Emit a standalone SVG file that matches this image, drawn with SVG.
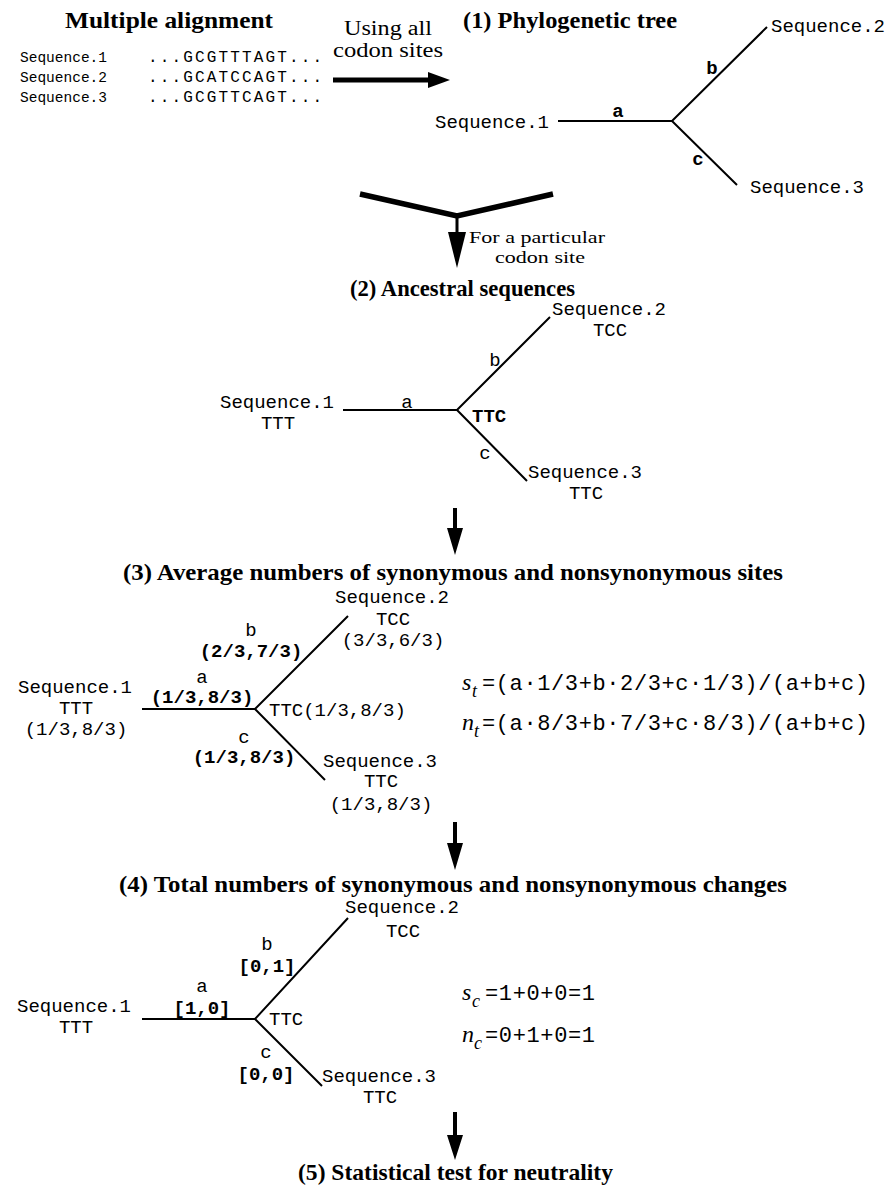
<svg xmlns="http://www.w3.org/2000/svg" width="889" height="1192" viewBox="0 0 889 1192">
<style>
.h{font-family:"Liberation Serif",serif;font-weight:bold;font-size:23px;fill:#000}
.s{font-family:"Liberation Serif",serif;font-size:20px;fill:#000}
.s2{font-family:"Liberation Serif",serif;font-size:17px;fill:#000}
.m{font-family:"Liberation Mono",monospace;font-size:19px;fill:#000}
.ms{font-family:"Liberation Mono",monospace;font-size:14.5px;fill:#000}
.mb{font-family:"Liberation Mono",monospace;font-size:19px;font-weight:bold;fill:#000}
.f{font-family:"Liberation Mono",monospace;font-size:22px;fill:#000}
.fi{font-family:"Liberation Serif",serif;font-style:italic;font-size:24px;fill:#000}
.fs{font-family:"Liberation Serif",serif;font-style:italic;font-size:18px;fill:#000}
.c{text-anchor:middle}
.br{stroke:#000;stroke-width:2;fill:none}
.ar{fill:#000;stroke:none}
</style>
<g id="alignment">
<text class="h" x="65" y="28" textLength="208" lengthAdjust="spacingAndGlyphs">Multiple alignment</text>
<text class="ms" x="20" y="62">Sequence.1</text>
<text class="ms" x="20" y="82">Sequence.2</text>
<text class="ms" x="20" y="102">Sequence.3</text>
<text class="ms" x="148" y="62" style="font-size:16px" textLength="174" lengthAdjust="spacing">...GCGTTTAGT...</text>
<text class="ms" x="148" y="82" style="font-size:16px" textLength="174" lengthAdjust="spacing">...GCATCCAGT...</text>
<text class="ms" x="148" y="102" style="font-size:16px" textLength="174" lengthAdjust="spacing">...GCGTTCAGT...</text>
</g>
<g id="step1">
<text class="h" x="463" y="28" textLength="214" lengthAdjust="spacingAndGlyphs">(1) Phylogenetic tree</text>
<text class="m" x="435" y="128">Sequence.1</text>
<text class="m" x="771" y="32">Sequence.2</text>
<text class="m" x="750" y="193">Sequence.3</text>
<text class="mb c" x="618" y="117">a</text>
<text class="mb c" x="712" y="74">b</text>
<text class="mb c" x="698" y="165">c</text>
<path class="br" d="M558 121H672L767 27M672 121L737 185"/>
</g>
<g id="step2">
<text class="h" x="350" y="296" textLength="225" lengthAdjust="spacingAndGlyphs">(2) Ancestral sequences</text>
<text class="m" x="220" y="408">Sequence.1</text>
<text class="m c" x="278" y="429">TTT</text>
<text class="m" x="552" y="315">Sequence.2</text>
<text class="m c" x="610" y="336">TCC</text>
<text class="m" x="528" y="478">Sequence.3</text>
<text class="m c" x="586" y="499">TTC</text>
<text class="m c" x="407" y="408">a</text>
<text class="m c" x="495" y="366">b</text>
<text class="m c" x="485" y="459">c</text>
<text class="mb" x="472" y="422">TTC</text>
<path class="br" d="M343 410H457L550 317M457 410L527 481"/>
</g>
<g id="step3">
<text class="h" x="123" y="580" textLength="660" lengthAdjust="spacingAndGlyphs">(3) Average numbers of synonymous and nonsynonymous sites</text>
<text class="m" x="18" y="693">Sequence.1</text>
<text class="m c" x="76" y="714">TTT</text>
<text class="m c" x="76" y="735">(1/3,8/3)</text>
<text class="m c" x="202" y="683">a</text>
<text class="mb c" x="202" y="703">(1/3,8/3)</text>
<text class="m c" x="251" y="636">b</text>
<text class="mb c" x="251" y="657">(2/3,7/3)</text>
<text class="m c" x="244" y="743">c</text>
<text class="mb c" x="244" y="763">(1/3,8/3)</text>
<text class="m" x="269" y="716">TTC(1/3,8/3)</text>
<text class="m" x="335" y="603">Sequence.2</text>
<text class="m c" x="393" y="625">TCC</text>
<text class="m c" x="393" y="646">(3/3,6/3)</text>
<text class="m" x="323" y="767">Sequence.3</text>
<text class="m c" x="381" y="787">TTC</text>
<text class="m c" x="381" y="810">(1/3,8/3)</text>
<path class="br" d="M142 709H255L348 616M255 709L325 780"/>
<text class="fi" x="462" y="690">s</text><text class="fs" x="472" y="697">t</text>
<text class="f" x="482" y="690" textLength="386" lengthAdjust="spacing">=(a·1/3+b·2/3+c·1/3)/(a+b+c)</text>
<text class="fi" x="462" y="730">n</text><text class="fs" x="474" y="737">t</text>
<text class="f" x="482" y="730" textLength="386" lengthAdjust="spacing">=(a·8/3+b·7/3+c·8/3)/(a+b+c)</text>
</g>
<g id="step4">
<text class="h" x="119" y="892" textLength="668" lengthAdjust="spacingAndGlyphs">(4) Total numbers of synonymous and nonsynonymous changes</text>
<text class="m" x="17" y="1012">Sequence.1</text>
<text class="m c" x="76" y="1033">TTT</text>
<text class="m c" x="202" y="992">a</text>
<text class="mb c" x="202" y="1014">[1,0]</text>
<text class="m c" x="267" y="950">b</text>
<text class="mb c" x="267" y="972">[0,1]</text>
<text class="m c" x="266" y="1058">c</text>
<text class="mb c" x="266" y="1080">[0,0]</text>
<text class="m" x="269" y="1025">TTC</text>
<text class="m" x="345" y="913">Sequence.2</text>
<text class="m c" x="403" y="937">TCC</text>
<text class="m" x="322" y="1082">Sequence.3</text>
<text class="m c" x="380" y="1103">TTC</text>
<path class="br" d="M142 1019H255L348 918M255 1019L322 1086"/>
<text class="fi" x="462" y="1000">s</text><text class="fs" x="472" y="1007">c</text>
<text class="f" x="485" y="1000" textLength="110" lengthAdjust="spacing">=1+0+0=1</text>
<text class="fi" x="462" y="1042">n</text><text class="fs" x="474" y="1049">c</text>
<text class="f" x="485" y="1042" textLength="110" lengthAdjust="spacing">=0+1+0=1</text>
</g>
<g id="step5">
<text class="h" x="298" y="1180" textLength="315" lengthAdjust="spacingAndGlyphs">(5) Statistical test for neutrality</text>
</g>
<g id="connectors">
<text class="s c" x="388" y="35" textLength="88" lengthAdjust="spacingAndGlyphs">Using all</text>
<text class="s c" x="388" y="57" textLength="110" lengthAdjust="spacingAndGlyphs">codon sites</text>
<path class="ar" d="M333 77.5H428V72L450 80L428 88V82.5H333Z"/>
<path d="M360 194L457 216L553 194" stroke="#000" stroke-width="5.5" fill="none" stroke-linejoin="miter"/>
<path class="ar" d="M455.5 214H458.5V232H466L457 268L448 232H455.5Z"/>
<text class="s2" x="469" y="243" textLength="136" lengthAdjust="spacingAndGlyphs">For a particular</text>
<text class="s2" x="495" y="263" textLength="90" lengthAdjust="spacingAndGlyphs">codon site</text>
<path class="ar" d="M453 508H457V528H463L455 555L447 528H453Z"/>
<path class="ar" d="M453 822H457V843H463L455 870L447 843H453Z"/>
<path class="ar" d="M453 1112H457V1135H463L455 1160L447 1135H453Z"/>
</g>
</svg>
